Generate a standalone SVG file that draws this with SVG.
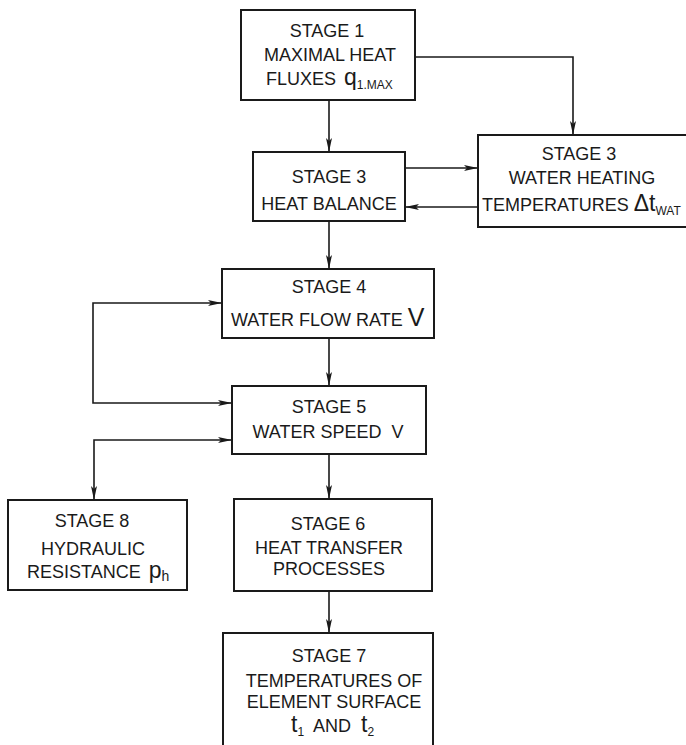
<svg xmlns="http://www.w3.org/2000/svg" width="686" height="745" viewBox="0 0 686 745">
  <style>
    .box { fill: #fff; stroke: #1a1a1a; stroke-width: 2; }
    .t { font-family: "Liberation Sans", Arial, sans-serif; font-size: 18px; fill: #1a1a1a; text-anchor: middle; }
    .l { text-anchor: start; }
    .big { font-size: 23px; }
    .sub { font-size: 12px; }
    .conn { fill: none; stroke: #1a1a1a; stroke-width: 1.6; }
  </style>
  <defs>
    <marker id="arr" viewBox="0 0 14 6" refX="14" refY="3" markerWidth="14" markerHeight="6" markerUnits="userSpaceOnUse" orient="auto">
      <path d="M0,0 L14,3 L0,6 L3,3 Z" fill="#1a1a1a"/>
    </marker>
  </defs>

  <rect width="686" height="745" fill="#fff"/>

  <g id="connectors">
    <path class="conn" d="M329,100 V152" marker-end="url(#arr)"/>
    <path class="conn" d="M415,57 H573 V135" marker-end="url(#arr)"/>
    <path class="conn" d="M405,168 H478" marker-end="url(#arr)"/>
    <path class="conn" d="M478,207 H405" marker-end="url(#arr)"/>
    <path class="conn" d="M329,221 V269" marker-end="url(#arr)"/>
    <path class="conn" d="M329,338 V386" marker-end="url(#arr)"/>
    <path class="conn" d="M93,353 V303 H222" marker-end="url(#arr)"/>
    <path class="conn" d="M93,353 V403 H232" marker-end="url(#arr)"/>
    <path class="conn" d="M150,440 H232" marker-end="url(#arr)"/>
    <path class="conn" d="M150,440 H94 V500" marker-end="url(#arr)"/>
    <path class="conn" d="M329,454 V499" marker-end="url(#arr)"/>
    <path class="conn" d="M329,591 V633" marker-end="url(#arr)"/>
  </g>

  <g id="stage1">
    <rect class="box" x="241" y="10" width="174" height="90"/>
    <text class="t" x="327" y="37">STAGE 1</text>
    <text class="t" x="330" y="61">MAXIMAL HEAT</text>
    <text class="t l" x="266" y="85">FLUXES <tspan class="big" dx="3">q</tspan><tspan class="sub" dy="4">1.MAX</tspan></text>
  </g>

  <g id="stage3-balance">
    <rect class="box" x="253" y="152" width="152" height="69"/>
    <text class="t" x="329" y="183">STAGE 3</text>
    <text class="t" x="329" y="210">HEAT BALANCE</text>
  </g>

  <g id="stage3-water">
    <rect class="box" x="478" y="135" width="230" height="92"/>
    <text class="t" x="579" y="160">STAGE 3</text>
    <text class="t" x="582" y="184">WATER HEATING</text>
    <text class="t l" x="482" y="211">TEMPERATURES <tspan class="big">Δt</tspan><tspan class="sub" dy="4">WAT</tspan></text>
  </g>

  <g id="stage4">
    <rect class="box" x="222" y="269" width="212" height="69"/>
    <text class="t" x="329" y="293">STAGE 4</text>
    <text class="t l" x="231" y="326">WATER FLOW RATE <tspan style="font-size:25px">V</tspan></text>
  </g>

  <g id="stage5">
    <rect class="box" x="232" y="386" width="194" height="68"/>
    <text class="t" x="329" y="413">STAGE 5</text>
    <text class="t" x="328" y="438" xml:space="preserve">WATER SPEED  V</text>
  </g>

  <g id="stage8">
    <rect class="box" x="8" y="500" width="179" height="90"/>
    <text class="t" x="92" y="527">STAGE 8</text>
    <text class="t" x="93" y="555">HYDRAULIC</text>
    <text class="t l" x="27" y="578">RESISTANCE <tspan class="big" dx="3">p</tspan><tspan class="sub" dy="3" style="font-size:14px">h</tspan></text>
  </g>

  <g id="stage6">
    <rect class="box" x="234" y="499" width="198" height="92"/>
    <text class="t" x="328" y="530">STAGE 6</text>
    <text class="t" x="329" y="554">HEAT TRANSFER</text>
    <text class="t" x="329" y="575">PROCESSES</text>
  </g>

  <g id="stage7">
    <rect class="box" x="223" y="633" width="210" height="130"/>
    <text class="t" x="329" y="662">STAGE 7</text>
    <text class="t" x="334" y="687">TEMPERATURES OF</text>
    <text class="t" x="334" y="708">ELEMENT SURFACE</text>
    <text class="t l" x="291" y="732" xml:space="preserve"><tspan class="big">t</tspan><tspan class="sub" dy="4">1</tspan><tspan dy="-4">  AND  </tspan><tspan class="big">t</tspan><tspan class="sub" dy="4">2</tspan></text>
  </g>
</svg>
